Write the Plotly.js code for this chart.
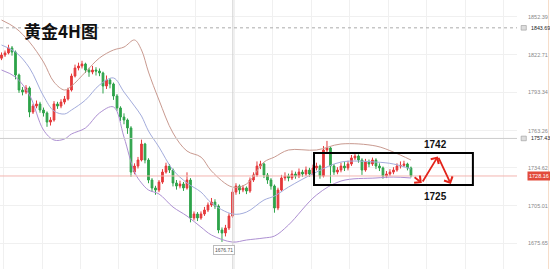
<!DOCTYPE html>
<html>
<head>
<meta charset="utf-8">
<script src="https://cdn.plot.ly/plotly-3.0.1.min.js"></script>
<style>html,body{margin:0;padding:0;background:#fff;}#chart{width:550px;height:269px;}</style>
</head>
<body>
<div id="chart"></div>
<script>
const title = "黄金4H图";
const openP = [1820.0,1822.5,1824.1,1828.0,1824.8,1806.9,1795.2,1793.6,1796.8,1778.0,1782.7,1784.3,1779.6,1777.3,1770.2,1771.8,1784.3,1782.7,1785.8,1788.2,1795.2,1806.1,1812.4,1813.9,1815.5,1810.8,1809.2,1810.8,1810.0,1808.5,1798.3,1803.0,1799.9,1790.5,1781.2,1774.1,1771.8,1765.6,1731.2,1735.9,1740.6,1753.1,1740.6,1725.0,1718.8,1717.2,1723.4,1731.2,1735.9,1732.8,1722.7,1720.3,1721.9,1718.8,1725.0,1695.4,1698.5,1695.4,1698.5,1701.6,1705.5,1707.8,1704.7,1686.0,1683.7,1687.6,1696.9,1715.6,1720.3,1717.2,1718.8,1716.4,1725.0,1728.9,1735.9,1737.5,1728.9,1725.0,1720.3,1703.2,1717.2,1726.6,1728.1,1726.6,1729.7,1728.1,1731.2,1729.7,1732.8,1729.7,1734.4,1735.9,1728.1,1748.4,1750.0,1735.9,1731.2,1732.8,1735.9,1734.4,1737.5,1742.2,1743.7,1740.6,1732.8,1739.0,1737.5,1740.6,1735.9,1734.4,1728.1,1729.7,1731.2,1732.8,1735.9,1736.4,1737.5,1734.4];
const closeP = [1822.5,1824.1,1828.0,1824.8,1806.9,1795.2,1793.6,1796.8,1778.0,1782.7,1784.3,1779.6,1777.3,1770.2,1771.8,1784.3,1782.7,1785.8,1788.2,1795.2,1806.1,1812.4,1813.9,1815.5,1810.8,1809.2,1810.8,1810.0,1808.5,1798.3,1803.0,1799.9,1790.5,1781.2,1774.1,1771.8,1765.6,1731.2,1735.9,1740.6,1753.1,1740.6,1725.0,1718.8,1717.2,1723.4,1731.2,1735.9,1732.8,1722.7,1720.3,1721.9,1718.8,1725.0,1695.4,1698.5,1695.4,1698.5,1701.6,1705.5,1707.8,1704.7,1686.0,1683.7,1687.6,1696.9,1715.6,1720.3,1717.2,1718.8,1716.4,1725.0,1728.9,1735.9,1737.5,1728.9,1725.0,1720.3,1703.2,1717.2,1726.6,1728.1,1726.6,1729.7,1728.1,1731.2,1729.7,1732.8,1729.7,1734.4,1735.9,1728.1,1748.4,1750.0,1735.9,1731.2,1732.8,1735.9,1734.4,1737.5,1742.2,1743.7,1740.6,1732.8,1739.0,1737.5,1740.6,1735.9,1734.4,1728.1,1729.7,1731.2,1732.8,1735.9,1736.4,1737.5,1734.4,1728.2];
const highP = [1824.5,1826.0,1830.5,1829.5,1826.0,1808.0,1797.5,1799.0,1798.0,1784.5,1787.0,1786.0,1781.5,1778.5,1774.0,1786.5,1786.0,1788.0,1790.5,1797.0,1808.0,1815.0,1816.5,1818.0,1816.5,1812.5,1814.0,1813.0,1812.0,1809.5,1806.5,1804.5,1801.0,1792.0,1782.5,1777.0,1773.0,1767.0,1738.0,1743.0,1756.5,1754.0,1742.0,1726.5,1720.5,1725.0,1733.5,1738.5,1737.5,1734.0,1725.0,1724.5,1723.5,1731.0,1726.5,1700.5,1700.0,1700.5,1704.0,1707.5,1711.0,1710.0,1706.0,1688.0,1690.0,1699.0,1718.5,1722.5,1721.5,1721.0,1720.0,1727.0,1731.0,1739.5,1740.0,1738.5,1730.5,1726.5,1721.5,1719.0,1729.0,1731.0,1730.0,1732.5,1731.5,1734.0,1733.0,1735.5,1734.5,1737.0,1738.5,1737.0,1751.5,1755.5,1751.0,1737.5,1735.0,1738.5,1739.0,1740.0,1744.5,1746.5,1745.0,1742.0,1741.5,1741.0,1742.5,1742.0,1738.0,1735.5,1732.0,1733.5,1735.0,1738.0,1739.5,1740.0,1738.5,1735.5];
const lowP = [1818.5,1821.0,1823.0,1822.0,1803.5,1793.0,1791.0,1792.0,1774.0,1776.5,1781.0,1777.5,1774.5,1766.5,1767.5,1770.5,1780.5,1781.0,1784.0,1787.0,1794.0,1805.0,1810.5,1812.0,1808.5,1805.5,1807.5,1806.5,1806.0,1792.5,1796.0,1796.5,1787.5,1779.0,1771.0,1768.5,1761.0,1727.5,1729.5,1734.0,1739.5,1738.0,1722.5,1716.0,1713.5,1715.5,1722.0,1730.0,1730.5,1720.0,1717.5,1718.5,1716.5,1717.5,1692.0,1693.5,1693.0,1694.0,1697.0,1700.0,1704.0,1702.5,1683.5,1676.7,1681.0,1686.0,1695.5,1713.5,1714.0,1715.5,1714.0,1715.0,1723.5,1727.5,1733.5,1726.5,1722.0,1717.5,1699.5,1701.5,1716.0,1724.5,1724.0,1725.0,1726.0,1726.5,1727.5,1728.0,1727.5,1728.5,1732.5,1726.0,1727.0,1745.5,1722.5,1729.0,1729.5,1731.0,1732.0,1732.5,1736.0,1740.5,1738.5,1729.0,1731.5,1735.0,1736.0,1733.5,1732.0,1726.0,1726.5,1728.0,1729.5,1731.5,1734.0,1735.0,1732.5,1727.0];

const bandIdx = [0,4,8,12,15,18,20,24,28,32,35,38,40,42,45,49,53,57,60,66,70,75,78,82,90,97,107,112,117];
const bandUpper = [1849.8,1843.6,1832.6,1817.0,1801.4,1795.2,1798.3,1809.2,1820.2,1826.4,1828.7,1834.2,1826.4,1809.2,1787.4,1761.7,1747.6,1742.9,1732.0,1719.5,1721.9,1739.0,1742.9,1748.4,1748.4,1753.1,1751.5,1746.8,1740.6];
const bandMiddle = [1830.3,1824.8,1812.4,1790.5,1778.8,1776.5,1779.6,1787.4,1799.1,1804.6,1793.6,1782.7,1774.9,1763.2,1750.7,1732.8,1722.7,1715.6,1707.1,1698.5,1700.0,1709.4,1712.5,1719.5,1731.2,1739.0,1739.0,1737.5,1733.6];
const bandLower = [1810.8,1805.3,1791.3,1764.0,1756.2,1757.0,1760.9,1765.6,1777.3,1782.0,1758.5,1731.2,1722.7,1717.2,1714.1,1703.9,1696.9,1688.3,1682.1,1676.6,1678.2,1679.8,1681.3,1689.9,1713.3,1724.2,1726.6,1727.3,1726.6];

const tickVals = [1852.39,1822.71,1793.34,1763.26,1734.62,1705.01,1675.65];
const tickText = ["1852.39","1822.71","1793.34","1763.26","1734.62","1705.01","1675.65"];

const lastPrice = 1728.16;
const crossPrice = 1757.43;
const markPrice = 1843.69;
const lowPrice = 1676.71;
const lowIdx = 63;
const crossIdx = 66.1;

const rangeTop = 1742, rangeBottom = 1725;
const boxIdx = [89.3, 134.7];
const boxPrice = [1721.1, 1746.1];
const path = [[117.6,1728.1],[120.1,1722.7],[124.7,1743.4],[128.4,1721.9]];

const idx = closeP.map((_, i) => i);

const traces = [
  {type:'scatter', mode:'lines', x:bandIdx, y:bandUpper, line:{color:'#c99a90', width:1, shape:'spline'}, hoverinfo:'skip'},
  {type:'scatter', mode:'lines', x:bandIdx, y:bandMiddle, line:{color:'#a3acdc', width:1, shape:'spline'}, hoverinfo:'skip'},
  {type:'scatter', mode:'lines', x:bandIdx, y:bandLower, line:{color:'#ad90d2', width:1, shape:'spline'}, hoverinfo:'skip'},
  {type:'candlestick', x:idx, open:openP, high:highP, low:lowP, close:closeP,
   increasing:{line:{color:'#e5393b', width:1}, fillcolor:'#e5393b'},
   decreasing:{line:{color:'#2ea34a', width:1}, fillcolor:'#2ea34a'},
   whiskerwidth:0, hoverinfo:'skip'}
];

const labelFont = {family:'Liberation Sans, Arial', size:5.5, color:'#888'};
const annotations = [
  {xref:'paper', yref:'paper', x:0.042, y:0.888, xanchor:'left', yanchor:'middle', showarrow:false,
   text:'<b>'+title+'</b>', font:{family:'Noto Sans CJK SC', size:17, color:'#111'}},
  {xref:'x', yref:'y', x:path[1][0], y:path[1][1], ax:path[0][0], ay:path[0][1], axref:'x', ayref:'y',
   showarrow:true, arrowhead:4, arrowsize:1, arrowwidth:1.8, arrowcolor:'#e3241b', text:'', standoff:0},
  {xref:'x', yref:'y', x:path[2][0], y:path[2][1], ax:path[1][0], ay:path[1][1], axref:'x', ayref:'y',
   showarrow:true, arrowhead:4, arrowsize:1, arrowwidth:1.8, arrowcolor:'#e3241b', text:'', standoff:0},
  {xref:'x', yref:'y', x:path[3][0], y:path[3][1], ax:path[2][0], ay:path[2][1], axref:'x', ayref:'y',
   showarrow:true, arrowhead:4, arrowsize:1, arrowwidth:1.8, arrowcolor:'#e3241b', text:'', standoff:0},
  {xref:'x', yref:'y', x:123.9, y:1752.7, showarrow:false, text:'<b>'+rangeTop+'</b>',
   font:{family:'Liberation Sans, Arial', size:10, color:'#111'}},
  {xref:'x', yref:'y', x:123.9, y:1712.5, showarrow:false, text:'<b>'+rangeBottom+'</b>',
   font:{family:'Liberation Sans, Arial', size:10, color:'#111'}},
  {xref:'x', yref:'y', x:lowIdx + 0.6, y:1670.4, showarrow:false, text:lowPrice.toFixed(2),
   font:{family:'Liberation Sans, Arial', size:5, color:'#555'}, bgcolor:'#fff', bordercolor:'#bbb', borderwidth:1, borderpad:1},
  {xref:'paper', yref:'y', x:1.02, y:lastPrice, xanchor:'left', showarrow:false, text:lastPrice.toFixed(2),
   font:{family:'Liberation Sans, Arial', size:5.5, color:'#fff'}, bgcolor:'#e24b3b', borderpad:1},
  {xref:'paper', yref:'y', x:1.024, y:crossPrice, xanchor:'left', showarrow:false, text:crossPrice.toFixed(2),
   font:{family:'Liberation Sans, Arial', size:5.3, color:'#222'}},
  {xref:'paper', yref:'y', x:1.024, y:markPrice, xanchor:'left', showarrow:false, text:markPrice.toFixed(2),
   font:{family:'Liberation Sans, Arial', size:5.3, color:'#222'}}
];

const shapes = [
  {type:'line', xref:'x', yref:'paper', x0:crossIdx, x1:crossIdx, y0:0, y1:1, line:{color:'#cfcfcf', width:1}},
  {type:'line', xref:'paper', yref:'y', x0:0, x1:1.0, y0:crossPrice, y1:crossPrice, line:{color:'#cccccc', width:1}},
  {type:'line', xref:'paper', yref:'y', x0:0, x1:1.0, y0:markPrice, y1:markPrice, line:{color:'#aaaaaa', width:1, dash:'dot'}},
  {type:'line', xref:'paper', yref:'y', x0:0, x1:1.0, y0:lastPrice, y1:lastPrice, line:{color:'#f3b5b0', width:1}},
  {type:'rect', xref:'x', yref:'y', x0:boxIdx[0], x1:boxIdx[1], y0:boxPrice[0], y1:boxPrice[1], line:{color:'#000', width:2}, fillcolor:'rgba(0,0,0,0)'},
  {type:'rect', xref:'paper', yref:'y', x0:1.008, x1:1.018, y0:crossPrice-1.8, y1:crossPrice+1.8, line:{color:'#999', width:0.6}, fillcolor:'#ddd'},
  {type:'rect', xref:'paper', yref:'y', x0:1.008, x1:1.018, y0:markPrice-1.8, y1:markPrice+1.8, line:{color:'#999', width:0.6}, fillcolor:'#ddd'},
  {type:'line', xref:'paper', yref:'paper', x0:1.061, x1:1.061, y0:0, y1:1, line:{color:'#f6dcc8', width:1}}
];

const layout = {
  width:550, height:269,
  margin:{l:0, r:33, t:0, b:0},
  paper_bgcolor:'#fff', plot_bgcolor:'#fff',
  showlegend:false,
  xaxis:{range:[-0.43, 147.3], showticklabels:false, ticks:'', showgrid:true, gridcolor:'#f0f0f0',
         tick0:0.57, dtick:11, zeroline:false, rangeslider:{visible:false}, showline:false, fixedrange:true},
  yaxis:{range:[1655.6, 1865.4], side:'right', tickvals:tickVals, ticktext:tickText, tickfont:labelFont,
         showgrid:true, gridcolor:'#f0f0f0', zeroline:false, ticks:'', ticklabelstandoff:10, showline:false, fixedrange:true},
  annotations:annotations,
  shapes:shapes
};

Plotly.newPlot('chart', traces, layout, {displayModeBar:false, staticPlot:true});
</script>
</body>
</html>
